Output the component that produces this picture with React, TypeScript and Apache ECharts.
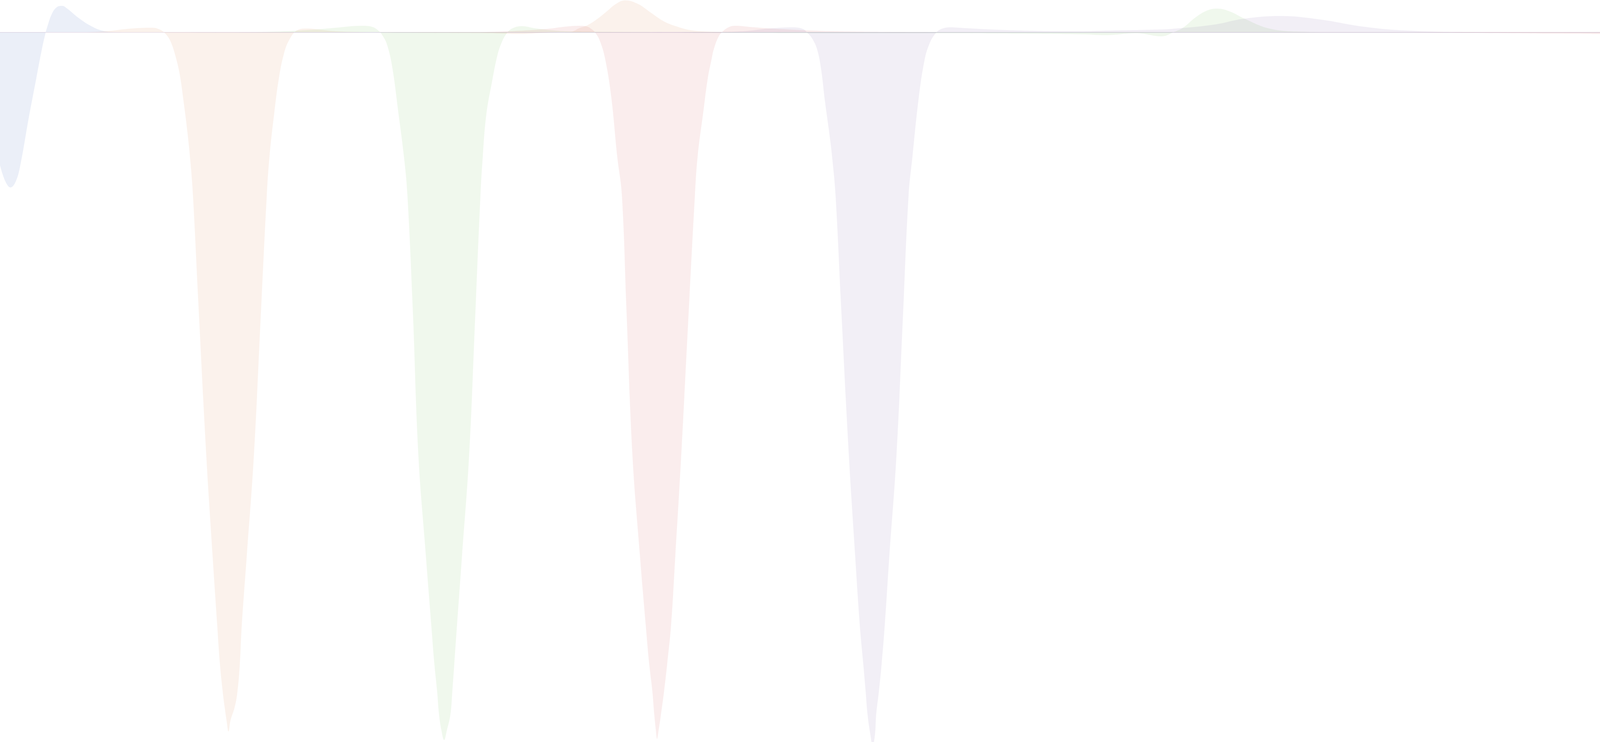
import { useEffect, useRef } from 'react';
import * as echarts from 'echarts';

// x in hundreds of samples, y in signal units; baseline sits at 0
const X_MAX = 62.71;
const Y_MIN = -90.87;
const Y_MAX = 4.13;

const blue: [number, number][] = [
  [0, -17.02], [0.14, -19.12], [0.27, -19.87], [0.41, -19.02], [0.53, -16.77], [0.73, -11.12],
  [0.93, -5.87], [1.07, -2.22], [1.17, 0], [1.2, 0.53], [1.33, 2.38], [1.46, 3.23], [1.59, 3.38],
  [1.72, 3.03], [2.0, 1.88], [2.3, 0.88], [2.6, 0.23], [2.9, 0.03], [3.5, 0], [8, -0.06],
  [30, -0.08], [62.71, -0.05],
];

const orange: [number, number][] = [
  [0, 0], [2.0, 0], [2.7, 0.13], [3.37, 0.48], [3.88, 0.58], [4.1, 0.33], [4.25, -0.27],
  [4.37, -1.22], [4.49, -3.02], [4.6, -5.37], [4.7, -8.87], [4.8, -12.87], [4.88, -16.87],
  [4.94, -20.87], [5.09, -35.87], [5.28, -54.12], [5.44, -66.87], [5.56, -75.87], [5.63, -80.87],
  [5.7, -84.37], [5.75, -86.37], [5.8, -88.12], [5.85, -89.52], [5.9, -88.12], [6.01, -86.37],
  [6.08, -84.37], [6.14, -80.87], [6.19, -75.87], [6.32, -66.87], [6.5, -54.12], [6.68, -35.87],
  [6.83, -20.87], [6.9, -15.87], [7.02, -10.37], [7.14, -5.87], [7.27, -2.72], [7.4, -1.02],
  [7.6, 0.23], [7.86, 0.48], [8.2, 0.33], [8.6, 0.13], [9.2, 0.03], [11.0, -0.07], [12.5, -0.12],
  [13.3, -0.22], [13.9, -0.07], [14.3, 0], [14.6, 0.03], [14.83, 0.53], [15.03, 0.88],
  [15.27, 1.63], [15.5, 2.53], [15.77, 3.63], [16.0, 4.08], [16.33, 3.63], [16.67, 2.48],
  [17.0, 1.38], [17.33, 0.73], [17.67, 0.28], [18.17, 0.08], [18.8, 0.02], [20, 0], [40, -0.03],
  [62.71, -0.03],
];

const green: [number, number][] = [
  [0, 0], [6.0, 0], [7.0, 0.08], [8.0, 0.33], [8.6, 0.58], [9.25, 0.83], [9.5, 0.73], [9.67, 0.28],
  [9.8, -0.47], [9.92, -1.77], [10.05, -4.72], [10.2, -10.37], [10.34, -15.87], [10.43, -20.87],
  [10.57, -35.87], [10.71, -54.12], [10.9, -66.87], [11.04, -75.87], [11.12, -80.87], [11.19, -84.37],
  [11.24, -87.37], [11.3, -89.37], [11.37, -90.62], [11.44, -89.37], [11.53, -87.37], [11.58, -84.37],
  [11.63, -80.87], [11.7, -75.87], [11.83, -66.87], [12.01, -54.12], [12.17, -35.87], [12.3, -20.87],
  [12.36, -15.87], [12.45, -10.52], [12.6, -6.22], [12.73, -3.02], [12.83, -1.47], [12.96, -0.22],
  [13.11, 0.48], [13.37, 0.78], [13.67, 0.53], [14.08, 0.28], [14.5, 0.13], [15.0, 0.08],
  [16.0, 0.03], [17.0, 0], [19.0, -0.07], [21.0, -0.12], [24.18, -0.12], [26.0, -0.17],
  [27.75, -0.27], [28.3, -0.37], [29.08, -0.12], [29.74, -0.52], [30.04, 0], [30.3, 0.63],
  [30.6, 1.88], [30.9, 2.78], [31.16, 3.03], [31.5, 2.63], [31.84, 1.78], [32.49, 0.48],
  [33.25, 0.08], [34.34, 0], [62.71, 0],
];

const red: [number, number][] = [
  [0, 0], [12.0, 0], [13.0, 0.13], [14.0, 0.43], [14.5, 0.73], [14.83, 0.83], [15.03, 0.73],
  [15.15, 0.38], [15.23, 0], [15.35, -1.02], [15.49, -3.37], [15.65, -8.37], [15.8, -15.87],
  [15.92, -20.87], [16.04, -35.87], [16.19, -54.12], [16.38, -66.87], [16.53, -75.87], [16.62, -80.87],
  [16.7, -84.37], [16.75, -87.37], [16.79, -89.37], [16.82, -90.47], [16.86, -89.37], [16.92, -87.37],
  [17.0, -84.37], [17.08, -80.87], [17.18, -75.87], [17.29, -66.87], [17.44, -54.12], [17.63, -35.87],
  [17.79, -20.87], [17.86, -15.87], [18.0, -10.37], [18.12, -5.87], [18.22, -3.37], [18.27, -2.22],
  [18.38, -0.72], [18.48, 0], [18.65, 0.63], [18.83, 0.83], [19.2, 0.68], [19.59, 0.53],
  [20.3, 0.33], [21.0, 0.18], [22.0, 0.08], [23.0, 0.03], [25.0, 0], [35.0, 0], [37.59, -0.07],
  [39.76, -0.17], [41.0, -0.22], [41.93, -0.27], [42.58, -0.22], [43.23, -0.42], [43.99, 0.03],
  [44.91, -0.77], [45.4, 0], [45.8, 1.63], [46.1, 2.33], [46.38, 2.48], [46.7, 2.23], [47.07, 1.73],
  [47.6, 0.73], [48.13, 0.28], [49.2, 0.03], [51.33, 0], [62.71, 0],
];

const purple: [number, number][] = [
  [0, 0], [15.0, 0], [18.0, 0.03], [19.0, 0.13], [19.69, 0.48], [20.3, 0.63], [20.55, 0.43],
  [20.68, -0.12], [20.8, -0.87], [20.92, -2.22], [21.02, -4.72], [21.12, -8.87], [21.22, -12.53],
  [21.3, -15.87], [21.39, -20.87], [21.54, -35.87], [21.73, -54.12], [21.89, -66.87], [22.01, -75.87],
  [22.1, -80.87], [22.16, -84.37], [22.21, -87.37], [22.28, -89.87], [22.34, -91.37], [22.4, -89.87],
  [22.43, -87.37], [22.5, -84.37], [22.57, -80.87], [22.65, -75.87], [22.77, -66.87], [22.95, -54.12],
  [23.12, -35.87], [23.26, -20.87], [23.36, -15.87], [23.52, -8.37], [23.67, -3.52], [23.79, -1.52],
  [23.93, -0.27], [24.08, 0.38], [24.33, 0.63], [24.7, 0.53], [25.5, 0.33], [26.5, 0.18],
  [27.5, 0.13], [28.5, 0.23], [29.5, 0.33], [30.0, 0.43], [31.08, 0.98], [31.84, 1.73],
  [32.77, 2.08], [33.8, 1.63], [34.88, 0.73], [35.97, 0.23], [37.59, 0.03], [39.76, 0],
  [45.0, -0.07], [50.0, -0.12], [54.53, -0.17], [55.59, -0.22], [56.66, -0.27], [57.41, -0.12],
  [58.21, -0.47], [59.06, 0.13], [60.07, -0.87], [60.6, 0], [61.0, 1.38], [61.3, 1.98],
  [61.62, 2.13], [62.0, 1.88], [62.4, 1.28], [62.71, 0.78],
];

const SERIES: { name: string; color: string; data: [number, number][] }[] = [
  { name: 'blue', color: '#375fb9', data: blue },
  { name: 'orange', color: '#d77d41', data: orange },
  { name: 'green', color: '#69b94b', data: green },
  { name: 'red', color: '#cd4b4b', data: red },
  { name: 'purple', color: '#7d5fa5', data: purple },
];

export default function App() {
  const ref = useRef<HTMLDivElement>(null);

  useEffect(() => {
    if (!ref.current) return;
    document.body.style.margin = '0';
    const chart = echarts.init(ref.current, undefined, { renderer: 'svg' });

    chart.setOption({
      animation: false,
      grid: { left: 0, right: 0, top: 0, bottom: 0 },
      xAxis: {
        type: 'value',
        min: 0,
        max: X_MAX,
        axisLine: { show: true, onZero: true, lineStyle: { color: '#efe7ef', width: 2 } },
        axisTick: { show: false },
        axisLabel: { show: false },
        splitLine: { show: false },
      },
      yAxis: {
        type: 'value',
        min: Y_MIN,
        max: Y_MAX,
        axisLine: { show: false },
        axisTick: { show: false },
        axisLabel: { show: false },
        splitLine: { show: false },
      },
      series: SERIES.map((s) => ({
        name: s.name,
        type: 'line',
        data: s.data,
        smooth: 0.4,
        showSymbol: false,
        silent: true,
        lineStyle: { width: 0, color: s.color },
        itemStyle: { color: s.color },
        areaStyle: { color: s.color, opacity: 0.1 },
      })),
    });

    return () => chart.dispose();
  }, []);

  return <div ref={ref} style={{ width: 6271, height: 1900 }} />;
}
